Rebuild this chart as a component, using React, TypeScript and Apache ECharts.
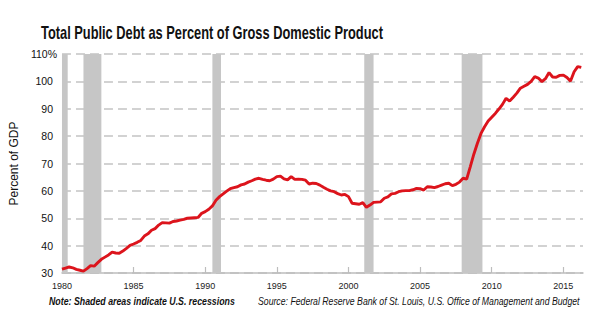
import React, { useEffect, useRef } from "react";
import * as echarts from "echarts";

const START_YEAR = 1980;
// Quarterly total public debt as % of GDP, 1980 Q1 .. 2016 Q2
const debtPct: number[] = [
  31.4, 31.8, 32.2, 31.9,
  31.3, 31.0, 30.7, 31.6,
  32.7, 32.5, 33.8, 35.0,
  35.8, 36.6, 37.6, 37.3,
  37.2, 38.0, 39.0, 40.1,
  40.6, 41.2, 41.9, 43.5,
  44.3, 45.6, 46.2, 47.5,
  48.4, 48.3, 48.2, 48.8,
  49.0, 49.3, 49.6, 50.0,
  50.1, 50.2, 50.3, 51.8,
  52.4, 53.3, 54.5, 56.6,
  57.9, 58.9, 59.9, 60.8,
  61.2, 61.5, 62.2, 62.5,
  63.2, 63.7, 64.3, 64.6,
  64.2, 63.9, 63.7, 64.3,
  65.2, 65.4, 64.4, 64.0,
  65.2, 64.2, 64.3, 64.2,
  63.9, 62.5, 62.8, 62.7,
  62.1, 61.3, 60.6, 60.0,
  59.7, 59.0, 58.5, 58.7,
  57.9, 55.5, 55.3, 55.1,
  55.7, 54.0, 54.8, 55.8,
  55.9, 56.0, 57.3, 57.8,
  58.9, 59.1, 59.7, 60.0,
  60.1, 60.1, 60.4, 60.9,
  60.8, 60.3, 61.5, 61.4,
  61.2, 61.6, 62.1, 62.6,
  62.8, 61.9, 62.4, 63.2,
  64.6, 64.3, 68.8, 73.4,
  77.4, 81.0, 83.4, 85.5,
  86.9, 88.3, 89.9, 91.6,
  93.8, 92.8, 94.2, 95.7,
  97.5, 98.2, 98.9, 100.0,
  101.7, 101.2, 99.9, 101.0,
  103.2, 101.6, 101.5, 102.2,
  102.3, 101.4, 100.1, 103.5,
  105.4, 105.1,
];

// Recession periods [start, end] in fractional years
const recessions: [number, number][] = [
  [1980.0, 1980.4],
  [1981.5, 1982.75],
  [1990.5, 1991.1],
  [2001.1, 2001.75],
  [2007.9, 2009.35],
];

const xTickYears = [1980, 1985, 1990, 1995, 2000, 2005, 2010, 2015];

const TITLE = "Total Public Debt as Percent of Gross Domestic Product";
const NOTE = "Note: Shaded areas indicate U.S. recessions";
const SOURCE = "Source: Federal Reserve Bank of St. Louis, U.S. Office of Management and Budget";

const SANS = "'Liberation Sans', Arial, sans-serif";

function measure(text: string, font: string): number {
  const ctx = document.createElement("canvas").getContext("2d");
  if (!ctx) return text.length * 6;
  ctx.font = font;
  return ctx.measureText(text).width;
}

// condensed text: scale horizontally so that the text spans the wanted width
function condensedText(text: string, font: string, x: number, y: number, width: number) {
  const w = measure(text, font);
  return {
    type: "text",
    x,
    y,
    scaleX: width / w,
    scaleY: 1,
    silent: true,
    style: { text, font, fill: "#111", textVerticalAlign: "middle", textAlign: "left" },
  };
}

export default function App() {
  const ref = useRef<HTMLDivElement>(null);
  useEffect(() => {
    if (!ref.current) return;
    const chart = echarts.init(ref.current, undefined, { renderer: "svg" });
    const seriesData = debtPct.map((v, i) => [START_YEAR + i * 0.25, v]);
    chart.setOption({
      animation: false,
      backgroundColor: "#ffffff",
      grid: { left: 49, right: 12, top: 54, bottom: 62, containLabel: false },
      xAxis: {
        type: "value",
        min: 1980,
        max: 2016.37,
        interval: 5,
        axisLine: { show: true, lineStyle: { color: "#bdbdbd", width: 1.5 } },
        axisTick: { show: true, inside: true, length: 6, customValues: xTickYears, lineStyle: { color: "#bdbdbd", width: 1.2 } },
        axisLabel: {
          customValues: xTickYears,
          formatter: (v: number) => String(v),
          fontFamily: SANS,
          fontSize: 9,
          color: "#222",
          margin: 8,
        },
        splitLine: { show: false },
      },
      yAxis: {
        type: "value",
        min: 30,
        max: 110,
        interval: 10,
        name: "Percent of GDP",
        nameLocation: "middle",
        nameRotate: 90,
        nameGap: 30,
        nameTextStyle: { fontFamily: SANS, fontSize: 12, color: "#111" },
        axisLine: { show: false },
        axisTick: { show: false },
        axisLabel: {
          margin: 5,
          fontFamily: SANS,
          fontSize: 10.5,
          color: "#111",
          formatter: (v: number) => (v === 110 ? "{a|" + v + "%}" : "{a|" + v + "}{s|}"),
          rich: {
            a: { fontFamily: SANS, fontSize: 10.5, color: "#111" },
            s: { width: 4 },
          },
        },
        splitLine: { show: true, lineStyle: { color: "#c4c4c4", width: 1.5, type: [9, 5] } },
      },
      graphic: [
        condensedText(TITLE, "bold 18px " + SANS, 41, 33, 342),
        condensedText(NOTE, "italic bold 11px " + SANS, 49, 301, 186),
        condensedText(SOURCE, "italic 11px " + SANS, 258, 301, 322),
      ],
      series: [
        {
          type: "line",
          data: seriesData,
          symbol: "none",
          smooth: false,
          lineStyle: { color: "#dc141c", width: 2.9 },
          z: 3,
          markArea: {
            silent: true,
            itemStyle: { color: "#c6c6c6", opacity: 1 },
            data: recessions.map(([a, b]) => [{ xAxis: a }, { xAxis: b }]),
          },
        },
      ],
    });
    return () => chart.dispose();
  }, []);
  return (
    <div
      ref={ref}
      style={{ position: "fixed", left: 0, top: 0, width: 595, height: 335, background: "#fff" }}
    />
  );
}
